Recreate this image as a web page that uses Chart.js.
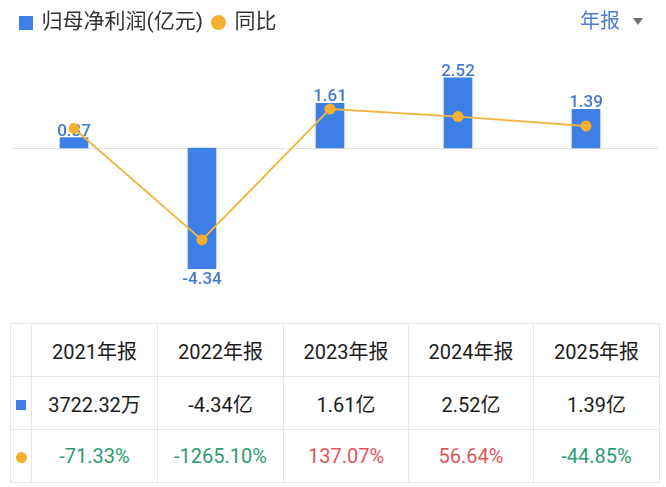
<!DOCTYPE html>
<html>
<head>
<meta charset="utf-8">
<script src="https://cdn.jsdelivr.net/npm/chart.js@4.4.1/dist/chart.umd.min.js"></script>
<style>
  body { margin: 0; background: #fff; font-family: Roboto, "Noto Sans CJK SC", sans-serif; }
  #wrap { position: relative; width: 666px; height: 487px; overflow: hidden; }
  #chartBox { position: absolute; left: 0; top: 0; width: 666px; height: 305px; }
  #period { position: absolute; left: 580px; top: 8px; font-size: 20px; line-height: 26px; color: #4a7ed6; }
  #tri { position: absolute; left: 633px; top: 18px; width: 0; height: 0;
         border-left: 5.5px solid transparent; border-right: 5.5px solid transparent; border-top: 7px solid #707070; }
  table { position: absolute; left: 10px; top: 323px; border-collapse: collapse; table-layout: fixed; }
  td { border: 1px solid #e6e6e6; text-align: center; font-size: 20px; color: #1c1c1c; padding: 0; height: 52px; }
  .sq { display: inline-block; width: 10px; height: 10px; background: #3d7fe6; vertical-align: middle; }
  .dot { display: inline-block; width: 11px; height: 11px; border-radius: 50%; background: #f5b02e; vertical-align: middle; }
  .up { color: #e0565a; }
  .down { color: #2e9c70; }
</style>
</head>
<body>
<div id="wrap">
  <div id="chartBox"><canvas id="chartLR"></canvas></div>
  <div id="period">年报</div>
  <div id="tri"></div>
  <table id="tbl"></table>
</div>
<script>
// data
const years = ['2021年报', '2022年报', '2023年报', '2024年报', '2025年报'];
const profit = [0.3722, -4.34, 1.61, 2.52, 1.39];       // 亿元
const yoy = [-71.33, -1265.10, 137.07, 56.64, -44.85];   // %
const profitText = ['3722.32万', '-4.34亿', '1.61亿', '2.52亿', '1.39亿'];

const blue = '#3d7fe6';
const orange = '#f5b02e';

// tabel bawah
const tbl = document.getElementById('tbl');
const colW = [21, 126, 126, 125, 125, 126];
let html = '<colgroup>' + colW.map(w => '<col style="width:' + w + 'px">').join('') + '</colgroup>';
html += '<tr><td></td>' + years.map(y => '<td>' + y + '</td>').join('') + '</tr>';
html += '<tr><td><span class="sq"></span></td>' + profitText.map(t => '<td>' + t + '</td>').join('') + '</tr>';
html += '<tr><td><span class="dot"></span></td>' +
  yoy.map(v => '<td class="' + (v >= 0 ? 'up' : 'down') + '">' + v.toFixed(2) + '%</td>').join('') + '</tr>';
tbl.innerHTML = html;

// icon legend
function swatch(color, shape, size) {
  const c = document.createElement('canvas');
  c.width = size; c.height = size;
  const g = c.getContext('2d');
  g.fillStyle = color;
  if (shape === 'rect') g.fillRect(0, 0, size, size);
  else { g.beginPath(); g.arc(size / 2, size / 2, size / 2, 0, Math.PI * 2); g.fill(); }
  return c;
}
const legendIcons = [swatch(blue, 'rect', 14), swatch(orange, 'circle', 15)];

const zeroLine = {
  id: 'zeroLine',
  beforeDatasetsDraw(chart) {
    const ctx = chart.ctx;
    const y = Math.round(chart.scales.y.getPixelForValue(0)) + 0.5;
    ctx.save();
    ctx.strokeStyle = '#e3e3e3';
    ctx.lineWidth = 1;
    ctx.beginPath();
    ctx.moveTo(12, y);
    ctx.lineTo(658, y);
    ctx.stroke();
    ctx.restore();
  }
};

const barLabels = {
  id: 'barLabels',
  afterDatasetDraw(chart, args) {
    if (args.index !== 0) return;
    const ctx = chart.ctx;
    ctx.save();
    ctx.font = '500 17px Roboto';
    ctx.fillStyle = '#4479d1';
    ctx.textAlign = 'center';
    ctx.textBaseline = 'alphabetic';
    args.meta.data.forEach((bar, i) => {
      const v = profit[i];
      if (v >= 0) ctx.fillText(v.toFixed(2), bar.x, bar.y - 2);
      else ctx.fillText(v.toFixed(2), bar.x, bar.y + 15);
    });
    ctx.restore();
  }
};

const chartConfig = {
  type: 'bar',
  data: {
    labels: years,
    datasets: [
      {
        type: 'bar',
        label: '归母净利润(亿元)',
        data: profit,
        backgroundColor: blue,
        barThickness: 28,
        yAxisID: 'y',
        order: 1
      },
      {
        type: 'line',
        label: '同比',
        data: yoy,
        borderColor: '#f0b640',
        borderWidth: 1.8,
        pointRadius: 5.5,
        pointBackgroundColor: orange,
        pointBorderWidth: 0,
        tension: 0,
        yAxisID: 'y2',
        order: 0
      }
    ]
  },
  options: {
    responsive: true,
    maintainAspectRatio: false,
    animation: false,
    layout: { padding: { left: 10, right: 16, top: 2, bottom: 15 } },
    scales: {
      x: { display: false },
      y: { display: false, min: -5.108, max: 3.777 },
      y2: { display: false, position: 'right', min: -1801, max: 844 }
    },
    plugins: {
      tooltip: { enabled: false },
      legend: {
        position: 'top',
        align: 'start',
        labels: {
          usePointStyle: true,
          boxWidth: 11,
          padding: 10,
          color: '#333',
          font: { size: 21, family: 'Roboto, "Noto Sans CJK SC"' },
          generateLabels: chart => chart.data.datasets.map((ds, i) => ({
            text: ds.label,
            pointStyle: legendIcons[i],
            fillStyle: i === 0 ? blue : orange,
            strokeStyle: 'transparent',
            lineWidth: 0,
            hidden: false,
            datasetIndex: i,
            fontColor: '#333'
          }))
        }
      }
    }
  },
  plugins: [zeroLine, barLabels]
};

const ctx = document.getElementById('chartLR');
const wadahChart = new Chart(ctx, chartConfig);
</script>
</body>
</html>
